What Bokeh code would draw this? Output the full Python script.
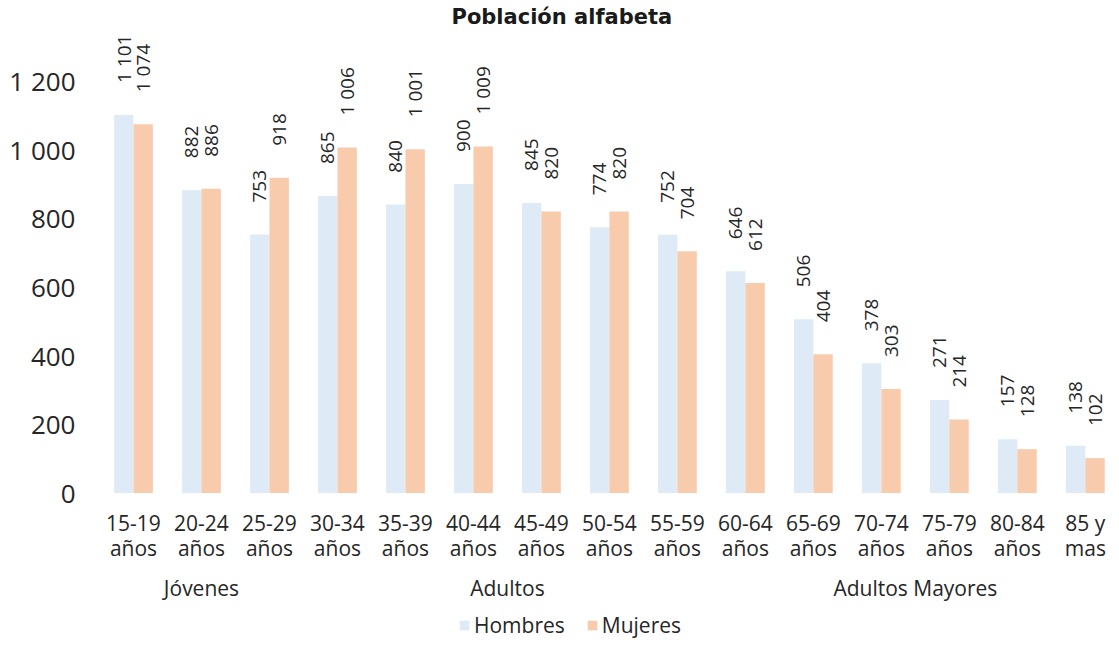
from math import pi
from bokeh.plotting import figure
from bokeh.models import (ColumnDataSource, Range1d, FixedTicker, LinearAxis,
                          LabelSet, Legend, LegendItem)
from bokeh.transform import dodge
from bokeh.core.properties import value
from bokeh.embed import file_html
from bokeh.resources import INLINE

# ---------------- data ----------------
categories = ["15-19\naños", "20-24\naños", "25-29\naños", "30-34\naños", "35-39\naños",
              "40-44\naños", "45-49\naños", "50-54\naños", "55-59\naños", "60-64\naños",
              "65-69\naños", "70-74\naños", "75-79\naños", "80-84\naños", "85 y\nmas"]
hombres = [1101, 882, 753, 865, 840, 900, 845, 774, 752, 646, 506, 378, 271, 157, 138]
mujeres = [1074, 886, 918, 1006, 1001, 1009, 820, 820, 704, 612, 404, 303, 214, 128, 102]
groups = ["Jóvenes", "Adultos", "Adultos Mayores"]
group_sizes = [3, 6, 6]
y_ticks = [0, 200, 400, 600, 800, 1000, 1200]
series_names = ["Hombres", "Mujeres"]

# ---------------- styling ----------------
FONT = "Open Sans"
TXT = "#262626"
C_H = "#DEEBF7"
C_M = "#F8CBAD"


def fmt(v):
    return f"{v:,}".replace(",", " ")


idx = list(range(len(categories)))
src = ColumnDataSource(dict(
    x=idx, hombres=hombres, mujeres=mujeres,
    h_lbl=[fmt(v) for v in hombres], m_lbl=[fmt(v) for v in mujeres],
))

# frame runs to the bottom of the canvas so that the legend is not clipped;
# the category axes are pinned below the zero line
p = figure(width=1110, height=642, output_backend="svg", toolbar_location=None,
           x_range=Range1d(-0.5, 14.37), y_range=Range1d(-435, 1347),
           min_border_left=99, min_border_right=0, min_border_bottom=0, min_border_top=30)

p.title.text = "Población alfabeta"
p.title.align = "left"
p.title.offset = 352
p.title.text_font = "DejaVu Sans"
p.title.text_font_size = "21px"
p.title.text_font_style = "bold"
p.title.text_color = "#1a1a1a"
p.title.standoff = 3

p.outline_line_color = None
p.xgrid.visible = False
p.ygrid.visible = False

BW = 0.285
r_h = p.vbar(x=dodge("x", -BW / 2, range=p.x_range), top="hombres", width=BW,
             source=src, fill_color=C_H, line_color=None)
r_m = p.vbar(x=dodge("x", BW / 2, range=p.x_range), top="mujeres", width=BW,
             source=src, fill_color=C_M, line_color=None)

for col, lbl, off in (("hombres", "h_lbl", -BW / 2), ("mujeres", "m_lbl", BW / 2)):
    ls = LabelSet(x=dodge("x", off, range=p.x_range), y=col, text=lbl, source=src,
                  angle=pi / 2, text_align="left", text_baseline="middle",
                  y_offset=32, text_font=value(FONT), text_font_size="19px",
                  text_color=TXT)
    p.add_layout(ls)

# y axis
p.yaxis.ticker = FixedTicker(ticks=y_ticks)
p.yaxis.major_label_overrides = {t: fmt(t) for t in y_ticks}
p.yaxis.major_label_text_font = FONT
p.yaxis.major_label_text_font_size = "26px"
p.yaxis.major_label_text_color = TXT
p.yaxis.major_label_standoff = 18
p.yaxis.axis_line_color = None
p.yaxis.major_tick_line_color = None
p.yaxis.minor_tick_line_color = None

# x axis (categories), pinned at zero
xa = p.xaxis[0]
xa.fixed_location = 0
xa.ticker = FixedTicker(ticks=idx)
xa.major_label_overrides = {i: c for i, c in zip(idx, categories)}
xa.major_label_text_font = FONT
xa.major_label_text_font_size = "21px"
xa.major_label_text_line_height = 0.88
xa.major_label_text_color = TXT
xa.major_label_standoff = 10
xa.axis_line_color = None
xa.major_tick_line_color = None
xa.minor_tick_line_color = None

# group axis
centers = []
start = 0
for n in group_sizes:
    centers.append(start + (n - 1) / 2)
    start += n
ga = LinearAxis(ticker=FixedTicker(ticks=centers), fixed_location=-200,
                major_label_overrides={c: g for c, g in zip(centers, groups)},
                major_label_text_font=FONT, major_label_text_font_size="21px",
                major_label_text_color=TXT, major_label_standoff=6,
                axis_line_color=None, major_tick_line_color=None,
                minor_tick_line_color=None)
p.add_layout(ga, "below")

legend = Legend(items=[LegendItem(label=series_names[0], renderers=[r_h]),
                       LegendItem(label=series_names[1], renderers=[r_m])],
                location=(359, 3), orientation="horizontal",
                glyph_width=12, glyph_height=12, label_standoff=4, spacing=21,
                padding=0, margin=0, border_line_color=None,
                background_fill_alpha=0, label_text_font=FONT,
                label_text_font_size="21px", label_text_color=TXT)
p.add_layout(legend)

open("out.html", "w").write(file_html(p, INLINE))
